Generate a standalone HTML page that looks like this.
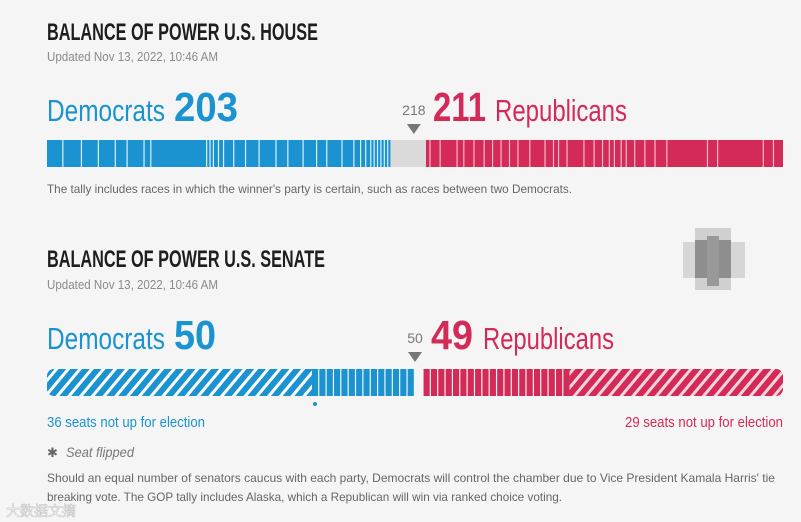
<!DOCTYPE html>
<html><head><meta charset="utf-8">
<style>
html,body{margin:0;padding:0;background:#f5f5f5;}
svg{display:block;font-family:"Liberation Sans Narrow","Liberation Sans",sans-serif;}
</style></head>
<body>
<svg id="chart" width="801" height="522" viewBox="0 0 801 522" xmlns="http://www.w3.org/2000/svg">
<defs>
<pattern id="hatchBlue" patternUnits="userSpaceOnUse" width="9" height="9" patternTransform="rotate(40)">
<rect width="9" height="9" fill="#1a93d0"/><rect width="3" height="9" fill="#ffffff"/></pattern>
<pattern id="hatchRed" patternUnits="userSpaceOnUse" width="9" height="9" patternTransform="rotate(40)">
<rect width="9" height="9" fill="#d42a57"/><rect width="3" height="9" fill="#f3d5dc"/></pattern>
</defs>
<rect width="801" height="522" fill="#f5f5f5"/>

<!-- HOUSE -->
<text x="47" y="40" font-size="24" font-weight="bold" fill="#1e1e1e" textLength="271" lengthAdjust="spacingAndGlyphs">BALANCE OF POWER U.S. HOUSE</text>
<text x="47" y="61" font-size="13" fill="#8a8a8a" textLength="171" lengthAdjust="spacingAndGlyphs">Updated Nov 13, 2022, 10:46 AM</text>
<text x="47" y="121" font-size="31" fill="#1a93d0" textLength="118" lengthAdjust="spacingAndGlyphs">Democrats</text>
<text id="houseDemNum" x="174" y="121" font-size="41" font-weight="bold" fill="#1a93d0" textLength="64" lengthAdjust="spacingAndGlyphs"></text>
<text id="houseMajLabel" x="414" y="115" font-size="14" fill="#777" text-anchor="middle"></text>
<polygon id="houseTri" points="0,0 0,0 0,0" fill="#777"/>
<text id="houseRepNum" x="433" y="121" font-size="41" font-weight="bold" fill="#d42a57" textLength="53" lengthAdjust="spacingAndGlyphs"></text>
<text x="495" y="121" font-size="31" fill="#d42a57" textLength="132" lengthAdjust="spacingAndGlyphs">Republicans</text>
<g id="houseBar"></g>
<text x="47" y="193" font-size="12" fill="#666" textLength="525" lengthAdjust="spacingAndGlyphs">The tally includes races in which the winner's party is certain, such as races between two Democrats.</text>

<!-- SENATE -->
<text x="47" y="267" font-size="24" font-weight="bold" fill="#1e1e1e" textLength="278" lengthAdjust="spacingAndGlyphs">BALANCE OF POWER U.S. SENATE</text>
<text x="47" y="289" font-size="13" fill="#8a8a8a" textLength="171" lengthAdjust="spacingAndGlyphs">Updated Nov 13, 2022, 10:46 AM</text>
<g>
<rect x="695" y="228" width="36" height="62" fill="#d0d0d0"/>
<rect x="683" y="242" width="62" height="36" fill="#d6d6d6"/>
<rect x="695" y="240" width="36" height="38" fill="#8e8e8e"/>
<rect x="707" y="236" width="12" height="50" fill="#999"/>
</g>
<text x="47" y="349" font-size="31" fill="#1a93d0" textLength="118" lengthAdjust="spacingAndGlyphs">Democrats</text>
<text id="senDemNum" x="174" y="349" font-size="41" font-weight="bold" fill="#1a93d0" textLength="42" lengthAdjust="spacingAndGlyphs"></text>
<text id="senMajLabel" x="415" y="343" font-size="14" fill="#777" text-anchor="middle"></text>
<polygon id="senTri" points="0,0 0,0 0,0" fill="#777"/>
<text id="senRepNum" x="431" y="349" font-size="41" font-weight="bold" fill="#d42a57" textLength="42" lengthAdjust="spacingAndGlyphs"></text>
<text x="483" y="349" font-size="31" fill="#d42a57" textLength="131" lengthAdjust="spacingAndGlyphs">Republicans</text>
<g id="senBar"></g>
<circle cx="315" cy="404" r="2" fill="#1a93d0"/>
<text x="47" y="427" font-size="15" fill="#1a93d0" textLength="158" lengthAdjust="spacingAndGlyphs">36 seats not up for election</text>
<text x="783" y="427" font-size="15" fill="#d42a57" text-anchor="end" textLength="158" lengthAdjust="spacingAndGlyphs">29 seats not up for election</text>
<text x="47" y="457" font-size="13" fill="#666">✱</text>
<text x="66" y="457" font-size="14" font-style="italic" fill="#777" textLength="68" lengthAdjust="spacingAndGlyphs">Seat flipped</text>
<text x="47" y="482" font-size="12" fill="#666" textLength="728" lengthAdjust="spacingAndGlyphs">Should an equal number of senators caucus with each party, Democrats will control the chamber due to Vice President Kamala Harris' tie</text>
<text x="47" y="501" font-size="12" fill="#666" textLength="515" lengthAdjust="spacingAndGlyphs">breaking vote. The GOP tally includes Alaska, which a Republican will win via ranked choice voting.</text>
<text x="6" y="516" font-size="14" fill="#ffffff" stroke="#bbb" stroke-width="0.5" font-family="'Liberation Sans','Noto Sans CJK SC',sans-serif">大数据文摘</text>
</svg>
<script>
// House data
const houseTotal = 435;
const houseDem = 203;
const houseRep = 211;
const houseMajority = 218;
const houseDemDividers = [9,20,30,40,47,57,61,94,96,98,101,104,110,117,125,135,142,151,159,165,174,181,185,188,191,193,195,197,199,201];
const houseRepDividers = [2,8,18,22,28,34,39,44,49,54,61,70,75,78,83,93,99,104,108,111,115,118,123,129,135,142,166,172,199,205];
// Senate data
const senTotal = 100;
const senDemNotUp = 36;
const senDemWon = 14;
const senRepWon = 20;
const senRepNotUp = 29;
const senMajority = 50;

const NS = "http://www.w3.org/2000/svg";
const X0 = 47, X1 = 783;
function hx(s){ return X0 + s / houseTotal * (X1 - X0); }
function sx(s){ return X0 + s / senTotal * (X1 - X0); }
function mk(tag, attrs, parent){
  const e = document.createElementNS(NS, tag);
  for (const k in attrs) e.setAttribute(k, attrs[k]);
  parent.appendChild(e); return e;
}

// House bar
const hb = document.getElementById('houseBar');
const hy = 140, hh = 27;
const hTossup = houseTotal - houseDem - houseRep;
let r = mk('rect', {x: hx(0), y: hy, width: hx(houseDem) - hx(0), height: hh, fill: '#1a93d0'}, hb);


r = mk('rect', {x: hx(houseDem), y: hy, width: hx(houseDem + hTossup) - hx(houseDem), height: hh, fill: '#dadada'}, hb);


r = mk('rect', {x: hx(houseDem + hTossup), y: hy, width: hx(houseTotal) - hx(houseDem + hTossup), height: hh, fill: '#d42a57'}, hb);


houseDemDividers.forEach(s => {
  const l = mk('rect', {x: hx(s), y: hy, width: 1.2, height: hh, fill: '#ffffff', opacity: 0.85}, hb);
  
  
});
houseRepDividers.forEach(s => {
  const l = mk('rect', {x: hx(houseDem + hTossup + s), y: hy, width: 1.2, height: hh, fill: '#f5c9d4', opacity: 0.9}, hb);
  
  
});
document.getElementById('houseDemNum').textContent = houseDem;
document.getElementById('houseRepNum').textContent = houseRep;
const hm = hx(houseMajority) - 2;
document.getElementById('houseMajLabel').textContent = houseMajority;
document.getElementById('houseMajLabel').setAttribute('x', hm);
document.getElementById('houseTri').setAttribute('points', `${hm-7},124 ${hm+7},124 ${hm},134`);

// Senate bar
const sb = document.getElementById('senBar');
const sy = 369, sh = 27;
const clip = mk('clipPath', {id: 'senClip'}, sb);
mk('rect', {x: X0, y: sy, width: X1 - X0, height: sh, rx: 7}, clip);
const sg = mk('g', {'clip-path': 'url(#senClip)'}, sb);
r = mk('rect', {x: sx(0), y: sy, width: sx(senDemNotUp) - sx(0), height: sh, fill: 'url(#hatchBlue)'}, sg);


for (let i = 0; i < senDemWon; i++) {
  const a = senDemNotUp + i;
  const c = mk('rect', {x: sx(a), y: sy, width: sx(a + 1) - sx(a) - 1.2, height: sh, fill: '#1a93d0'}, sg);
  
  
}
const repStart = senTotal - senRepNotUp - senRepWon;
for (let i = 0; i < senRepWon; i++) {
  const a = repStart + i;
  const c = mk('rect', {x: sx(a) + 1.2, y: sy, width: sx(a + 1) - sx(a) - 1.2, height: sh, fill: '#d42a57'}, sg);
  
  
}
r = mk('rect', {x: sx(senTotal - senRepNotUp), y: sy, width: sx(senTotal) - sx(senTotal - senRepNotUp), height: sh, fill: 'url(#hatchRed)'}, sg);


document.getElementById('senDemNum').textContent = senDemNotUp + senDemWon;
document.getElementById('senRepNum').textContent = senRepWon + senRepNotUp;
const smx = sx(senMajority);
document.getElementById('senMajLabel').textContent = senMajority;
document.getElementById('senMajLabel').setAttribute('x', smx);
document.getElementById('senTri').setAttribute('points', `${smx-7},352 ${smx+7},352 ${smx},362`);
</script>
</body></html>
